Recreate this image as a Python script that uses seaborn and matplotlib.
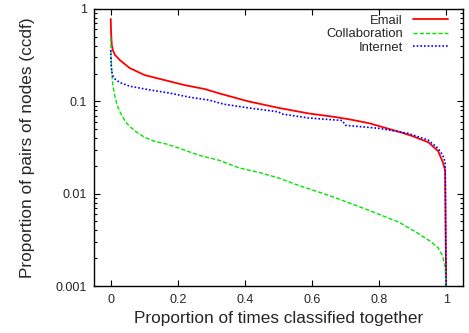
import matplotlib
matplotlib.use("Agg")
import matplotlib.pyplot as plt
import matplotlib.ticker as mticker
import numpy as np
import pandas as pd
import seaborn as sns

# CCDF of the proportion of runs in which a pair of nodes ends up in the same class
email_x = [0.0, 0.001, 0.003, 0.006, 0.012, 0.027, 0.056, 0.10, 0.16, 0.22, 0.28,
           0.323, 0.41, 0.50, 0.59, 0.665, 0.71, 0.77, 0.858, 0.90, 0.947, 0.976,
           0.99, 0.997, 1.0]
email_y = [0.78, 0.55, 0.41, 0.36, 0.32, 0.28, 0.23, 0.193, 0.17, 0.15, 0.136,
           0.122, 0.100, 0.085, 0.074, 0.068, 0.064, 0.058, 0.047, 0.042, 0.036, 0.029,
           0.022, 0.018, 0.001]

collab_x = [0.0, 0.001, 0.003, 0.006, 0.012, 0.018, 0.025, 0.033, 0.047, 0.071, 0.10,
            0.13, 0.166, 0.205, 0.264, 0.323, 0.383, 0.442, 0.50, 0.56, 0.65, 0.77,
            0.86, 0.917, 0.95, 0.976, 0.99, 0.997, 1.0]
collab_y = [0.49, 0.30, 0.21, 0.15, 0.115, 0.094, 0.080, 0.070, 0.058, 0.048, 0.041,
            0.037, 0.0345, 0.031, 0.026, 0.023, 0.019, 0.017, 0.0148, 0.0123, 0.0096,
            0.0066, 0.0049, 0.0037, 0.0031, 0.0026, 0.0021, 0.0016, 0.0009]

internet_x = [0.0, 0.001, 0.003, 0.006, 0.012, 0.027, 0.056, 0.116, 0.175, 0.234,
              0.294, 0.338, 0.41, 0.50, 0.51, 0.59, 0.665, 0.69, 0.70, 0.80, 0.887,
              0.947, 0.976, 0.99, 0.997, 1.0]
internet_y = [0.36, 0.25, 0.21, 0.19, 0.175, 0.16, 0.146, 0.133, 0.123, 0.111,
              0.103, 0.093, 0.085, 0.077, 0.073, 0.066, 0.063, 0.062, 0.055, 0.051, 0.045,
              0.038, 0.031, 0.026, 0.022, 0.001]

series_names = ["Email", "Collaboration", "Internet"]
series_colors = ["#ff0000", "#00e600", "#0000ff"]
x_ticks = [0, 0.2, 0.4, 0.6, 0.8, 1]
x_tick_labels = ["0", "0.2", "0.4", "0.6", "0.8", "1"]
y_ticks = [0.001, 0.01, 0.1, 1]
y_tick_labels = ["0.001", "0.01", "0.1", "1"]

frames = []
for name, xs, ys in [("Email", email_x, email_y),
                     ("Collaboration", collab_x, collab_y),
                     ("Internet", internet_x, internet_y)]:
    frames.append(pd.DataFrame({"x": xs, "y": ys, "network": name}))
df = pd.concat(frames, ignore_index=True)

sns.set_style("ticks")
plt.rcParams["font.family"] = ["Liberation Sans", "DejaVu Sans"]

fig = plt.figure(figsize=(4.69, 3.33), dpi=100)
ax = fig.add_axes([0.2004, 0.141, 0.7866, 0.832])

line_styles = {"Email": dict(ls="-", lw=1.3),
               "Collaboration": dict(ls=(0, (3, 1.5)), lw=1.0),
               "Internet": dict(ls=(0, (1, 1.2)), lw=1.2)}
for name, color in zip(series_names, series_colors):
    sns.lineplot(data=df[df["network"] == name], x="x", y="y", ax=ax,
                 color=color, label=name, estimator=None, sort=False,
                 **line_styles[name])

ax.set_yscale("log")
ax.set_xlim(-0.05, 1.05)
ax.set_ylim(0.001, 1)
ax.set_xticks(x_ticks)
ax.set_xticklabels(x_tick_labels)
ax.set_yticks(y_ticks)
ax.set_yticklabels(y_tick_labels)
ax.yaxis.set_minor_locator(mticker.LogLocator(base=10, subs=np.arange(2, 10)))
ax.yaxis.set_minor_formatter(mticker.NullFormatter())

ax.tick_params(which="both", direction="in", top=True, right=True,
               labelsize=9, color="black", width=0.8)
ax.tick_params(axis="x", which="major", pad=6)
ax.tick_params(axis="y", which="major", pad=5)
ax.tick_params(which="major", length=4.5)
ax.tick_params(which="minor", length=2.5)
ax.tick_params(axis="x", which="minor", top=False, bottom=False)
for sp in ax.spines.values():
    sp.set_linewidth(1.0)
    sp.set_color("black")

ax.set_xlabel("Proportion of times classified together", fontsize=12.4, labelpad=3)
ax.set_ylabel("Proportion of pairs of nodes (ccdf)", fontsize=12.4, labelpad=15)

leg = ax.legend(loc="upper right", bbox_to_anchor=(1 - 0.04, 1 - 0.02),
                frameon=False, markerfirst=False, fontsize=9.4,
                handlelength=2.7, handletextpad=0.75, labelspacing=0.1,
                borderaxespad=0, borderpad=0)

fig.savefig("out.png", dpi=100)
